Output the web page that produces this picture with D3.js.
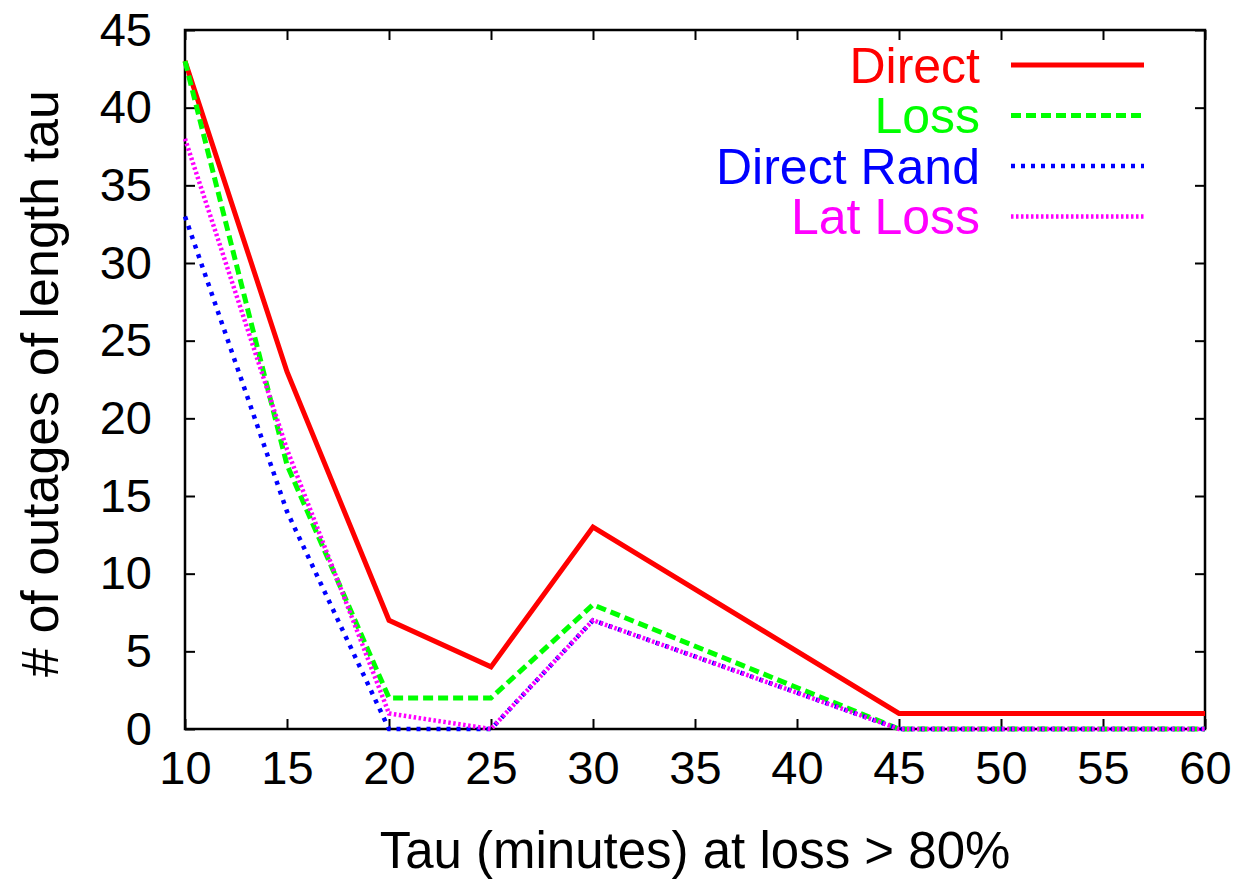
<!DOCTYPE html>
<html>
<head>
<meta charset="utf-8">
<script src="https://cdn.jsdelivr.net/npm/d3@7"></script>
<style>
  body { margin: 0; background: #fff; }
  text { font-family: "Liberation Sans", Arial, Helvetica, sans-serif; }
</style>
</head>
<body>
<div id="chart"></div>
<script>
// values
var tau = [10, 15, 20, 25, 30, 45, 50, 55, 60];
var direct     = [43, 23, 7, 4, 13, 1, 1, 1, 1];
var loss       = [43, 17, 2, 2, 8, 0, 0, 0, 0];
var directRand = [33, 14, 0, 0, 7, 0, 0, 0, 0];
var latLoss    = [38, 18, 1, 0, 7, 0, 0, 0, 0];
var xTicks = [10, 15, 20, 25, 30, 35, 40, 45, 50, 55, 60];
var yTicks = [0, 5, 10, 15, 20, 25, 30, 35, 40, 45];

var series = [
  { name: "Direct",      values: direct,     color: "#ff0000", dash: null,      w: 5 },
  { name: "Loss",        values: loss,       color: "#00ff00", dash: "10,5",    w: 5 },
  { name: "Direct Rand", values: directRand, color: "#0000ff", dash: "4,6",     w: 4.5 },
  { name: "Lat Loss",    values: latLoss,    color: "#ff00ff", dash: "2.5,2.5", w: 4.5 }
];

var svgWidth = 1239, svgHeight = 883;
var margin = { top: 30, right: 34, bottom: 154, left: 185 };
var width = svgWidth - margin.left - margin.right;
var height = svgHeight - margin.top - margin.bottom;

var svg = d3.select("#chart").append("svg")
  .attr("width", svgWidth)
  .attr("height", svgHeight);

var g = svg.append("g")
  .attr("transform", `translate(${margin.left}, ${margin.top})`);

var x = d3.scaleLinear().domain([10, 60]).range([0, width]);
var y = d3.scaleLinear().domain([0, 45]).range([height, 0]);

// axes (gnuplot style: inward ticks, mirrored)
var bottomAxis = d3.axisBottom(x).tickValues(xTicks).tickSize(-10).tickPadding(22).tickFormat(d3.format("d"));
var leftAxis = d3.axisLeft(y).tickValues(yTicks).tickSize(-10).tickPadding(33).tickFormat(d3.format("d"));
var topAxis = d3.axisTop(x).tickValues(xTicks).tickSize(-10).tickFormat("");
var rightAxis = d3.axisRight(y).tickValues(yTicks).tickSize(-10).tickFormat("");

function styleAxis(sel) {
  sel.select(".domain").remove();
  sel.selectAll(".tick line").attr("stroke", "#000").attr("stroke-width", 2);
  sel.selectAll(".tick text").attr("fill", "#000").style("font-size", "47px");
}

g.append("g").attr("transform", `translate(0, ${height})`).call(bottomAxis).call(styleAxis)
  .selectAll(".tick text").attr("dy", "0.71em");
g.append("g").call(leftAxis).call(styleAxis);
g.append("g").call(topAxis).call(styleAxis);
g.append("g").attr("transform", `translate(${width}, 0)`).call(rightAxis).call(styleAxis);

// frame
g.append("rect")
  .attr("x", 0).attr("y", 0)
  .attr("width", width).attr("height", height)
  .attr("fill", "none")
  .attr("stroke", "#000")
  .attr("stroke-width", 2.5);

// lines
var line = d3.line()
  .x(function(d, i) { return x(tau[i]); })
  .y(function(d) { return y(d); });

series.forEach(function(s) {
  g.append("path")
    .datum(s.values)
    .attr("d", line)
    .attr("fill", "none")
    .attr("stroke", s.color)
    .attr("stroke-width", s.w)
    .attr("stroke-dasharray", s.dash);
});

// legend
var legend = g.append("g");
series.forEach(function(s, i) {
  var ly = 35 + i * 50.5;
  legend.append("text")
    .attr("x", 795)
    .attr("y", ly)
    .attr("dy", "0.35em")
    .attr("text-anchor", "end")
    .attr("fill", s.color)
    .style("font-size", "50px")
    .text(s.name);
  legend.append("line")
    .attr("x1", 826).attr("x2", 959)
    .attr("y1", ly).attr("y2", ly)
    .attr("stroke", s.color)
    .attr("stroke-width", s.w)
    .attr("stroke-dasharray", s.dash);
});

// axis titles
svg.append("text")
  .attr("x", margin.left + width / 2)
  .attr("y", 868)
  .attr("text-anchor", "middle")
  .style("font-size", "51px")
  .text("Tau (minutes) at loss > 80%");

svg.append("text")
  .attr("transform", `translate(58, ${margin.top + height / 2 + 4}) rotate(-90)`)
  .attr("text-anchor", "middle")
  .style("font-size", "52px")
  .text("# of outages of length tau");
</script>
</body>
</html>
